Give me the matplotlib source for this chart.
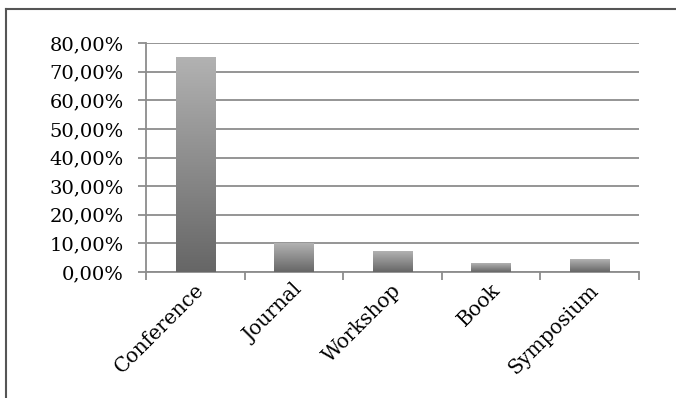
"""Bar chart of publication venue shares with gradient-filled bars."""

import matplotlib

matplotlib.use("Agg")

import matplotlib.pyplot as plt
import numpy as np
from matplotlib.colors import LinearSegmentedColormap
from matplotlib.lines import Line2D
from matplotlib.ticker import FuncFormatter, MultipleLocator


VENUES = ["Conference", "Journal", "Workshop", "Book", "Symposium"]
SHARES = [74.8, 9.8, 7.3, 3.1, 4.3]

GRID_COLOR = "#8c8c8c"
TEXT_FONT = "DejaVu Serif"

fig = plt.figure(figsize=(6.76, 3.98), dpi=100)
ax = fig.add_axes([146 / 676, 1 - 272 / 398, (639 - 146) / 676, (272 - 43) / 398])

x = np.arange(len(VENUES))
bars = ax.bar(x, SHARES, width=0.4, color="none", zorder=3)

# vertical gradient for each bar, light on top, dark at the bottom
gradient_cmap = LinearSegmentedColormap.from_list("bar_grad", ["#666666", "#b2b2b2"])
grad = np.linspace(0, 1, 256).reshape(-1, 1)
for bar in bars:
    x0, y0 = bar.get_x(), bar.get_y()
    w, h = bar.get_width(), bar.get_height()
    ax.imshow(
        grad,
        cmap=gradient_cmap,
        origin="lower",
        aspect="auto",
        extent=(x0, x0 + w, y0, y0 + h),
        zorder=3,
    )

ax.set_xlim(-0.5, len(VENUES) - 0.5)
ax.set_ylim(0, 80)
ax.yaxis.set_major_locator(MultipleLocator(10))
ax.yaxis.set_major_formatter(FuncFormatter(lambda v, _: f"{v:.2f}%".replace(".", ",")))

ax.grid(axis="y", color=GRID_COLOR, linewidth=1.3, zorder=1)
ax.set_axisbelow(True)
for side in ("top", "right"):
    ax.spines[side].set_visible(False)
for side in ("left", "bottom"):
    ax.spines[side].set_color(GRID_COLOR)
    ax.spines[side].set_linewidth(1.3)

# category boundaries get the ticks, labels sit under the bars
ax.set_xticks(np.arange(len(VENUES) + 1) - 0.5)
ax.set_xticklabels([])
ax.tick_params(axis="x", length=6, width=1.3, color=GRID_COLOR)
ax.tick_params(axis="y", length=6, width=1.3, color=GRID_COLOR, labelsize=14, pad=10)
for label in ax.get_yticklabels():
    label.set_family(TEXT_FONT)

for i, venue in enumerate(VENUES):
    ax.annotate(
        venue,
        xy=(i - 0.01, 0),
        xycoords=("data", "axes fraction"),
        xytext=(0, -6),
        textcoords="offset points",
        rotation=45,
        ha="right",
        va="top",
        rotation_mode="anchor",
        fontsize=14.5,
        family=TEXT_FONT,
    )

# outer chart frame (top and left edges visible in the crop)
fig.add_artist(Line2D([6 / 676, 6 / 676], [0, 1 - 9 / 398], transform=fig.transFigure,
                      color="#555555", linewidth=1.5))
fig.add_artist(Line2D([6 / 676, 1], [1 - 9 / 398, 1 - 9 / 398], transform=fig.transFigure,
                      color="#555555", linewidth=1.5))

fig.savefig("out.png", dpi=100)
